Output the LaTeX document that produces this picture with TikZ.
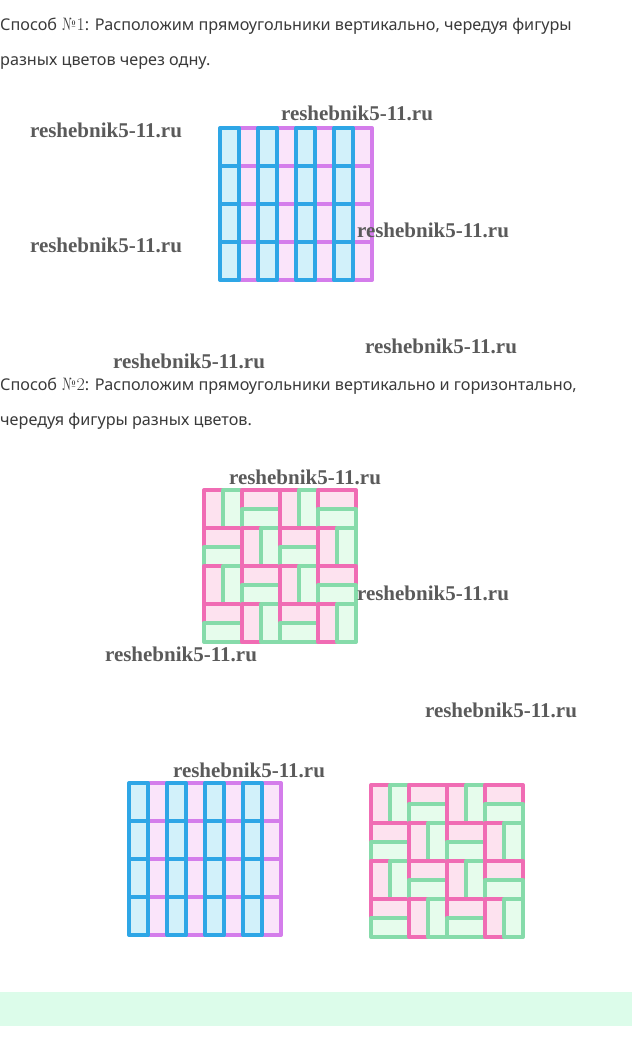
\documentclass[tikz,border=0pt]{standalone}
\usepackage{fontspec}
\newfontfamily\txtfont{Noto Sans}
\newfontfamily\wmfont{Liberation Serif}
\definecolor{txtgray}{HTML}{3A3A3A}
\definecolor{wmgray}{HTML}{5A5A5A}
\definecolor{blueB}{HTML}{2EA6E6}
\definecolor{blueF}{HTML}{D2F1FA}
\definecolor{violetB}{HTML}{D47DEB}
\definecolor{violetF}{HTML}{FAE4FA}
\definecolor{pinkB}{HTML}{F06CB4}
\definecolor{pinkF}{HTML}{FDE2EF}
\definecolor{greenB}{HTML}{86DBAA}
\definecolor{greenF}{HTML}{E6FCEC}
\definecolor{bandF}{HTML}{DCFCEA}
\newcommand{\numsign}[1]{{\rmfamily\fontsize{18}{18}\selectfont №#1}}
\tikzset{
  bluebox/.style={draw=blueB,fill=blueF,line width=4pt},
  violetbox/.style={draw=violetB,fill=violetF,line width=4pt},
  pinkbox/.style={draw=pinkB,fill=pinkF,line width=4pt},
  greenbox/.style={draw=greenB,fill=greenF,line width=4pt},
  caption/.style={anchor=base west,inner sep=0pt,text=txtgray,font=\txtfont\fontsize{16.2}{18}\selectfont},
  wmark/.style={inner sep=0pt,text=wmgray,font=\wmfont\bfseries\fontsize{21}{24}\selectfont}
}
% vertical stripes: 8 columns x 4 rows
\newcommand{\stripegrid}[2]{%
  \begin{scope}[shift={(#1,#2)}]
    \foreach \col in {1,3,5,7} {
      \foreach \row in {0,...,3} {
        \draw[violetbox] (\col*19,\row*38) rectangle ++(19,38);
      }
    }
    \foreach \col in {0,2,4,6} {
      \foreach \row in {0,...,3} {
        \draw[bluebox] (\col*19,\row*38) rectangle ++(19,38);
      }
    }
  \end{scope}}
% basket weave: 4 x 4 blocks of two rectangles
\newcommand{\weavegrid}[2]{%
  \begin{scope}[shift={(#1,#2)}]
    \foreach \bx in {0,...,3} {
      \foreach \by in {0,...,3} {
        \pgfmathtruncatemacro{\blockpar}{mod(\bx+\by,2)}
        \ifnum\blockpar=0
          \draw[pinkbox] (\bx*38,\by*38) rectangle ++(19,38);
          \draw[greenbox] (\bx*38+19,\by*38) rectangle ++(19,38);
        \else
          \draw[pinkbox] (\bx*38,\by*38) rectangle ++(38,19);
          \draw[greenbox] (\bx*38,\by*38+19) rectangle ++(38,19);
        \fi
      }
    }
  \end{scope}}

\begin{document}
\begin{tikzpicture}[x=1pt,y=-1pt,line join=round]
  \useasboundingbox (0,0) rectangle (632,1060);
  \fill[bandF] (0,992) rectangle (632,1026);

  \node[caption] (t1) at (0,30) {Способ \numsign{1}: Расположим прямоугольники вертикально, чередуя фигуры};
  \node[caption] (t2) at (0,65) {разных цветов через одну.};
  \node[caption] (t3) at (0,390) {Способ \numsign{2}: Расположим прямоугольники вертикально и горизонтально,};
  \node[caption] (t4) at (0,425) {чередуя фигуры разных цветов.};

  \stripegrid{220}{128}
  \weavegrid{204}{490}
  \stripegrid{129}{783}
  \weavegrid{371}{785}

  \foreach \wx/\wy [count=\i] in {106/130,357/113,106/245,433/230,189/361,441/346,305/477,433/593,181/654,501/710,249/770} {
    \node[wmark] (wm\i) at (\wx,\wy) {reshebnik5-11.ru};
  }
\end{tikzpicture}
\end{document}
